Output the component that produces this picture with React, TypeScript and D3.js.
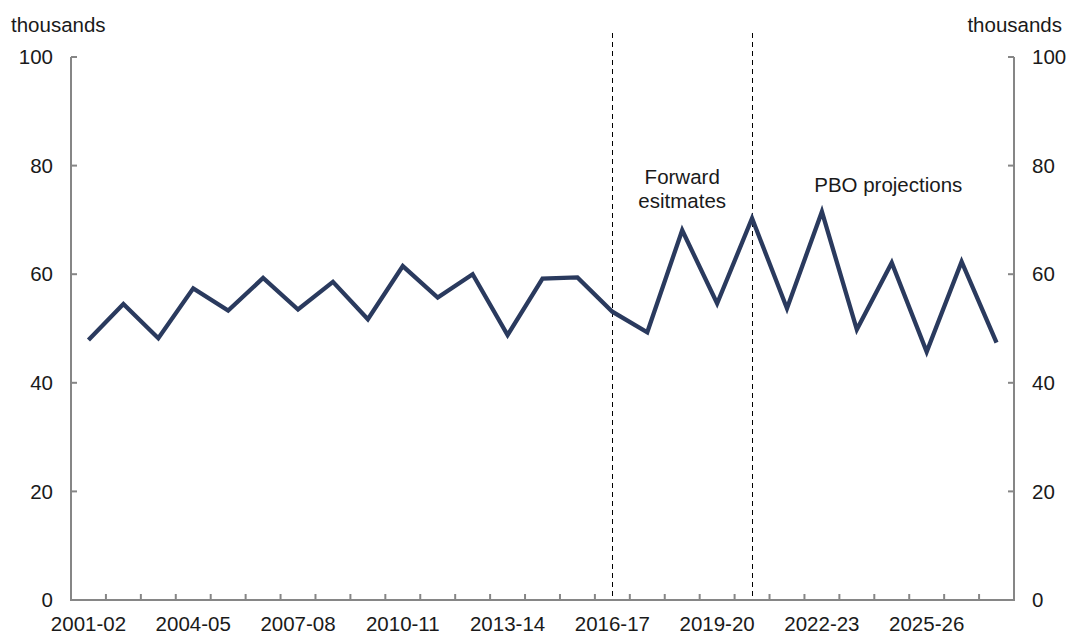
import { useEffect, useRef } from "react";
import * as d3 from "d3";

// financial years shown on the category axis
const YEARS = [
  "2001-02", "2002-03", "2003-04", "2004-05", "2005-06", "2006-07", "2007-08",
  "2008-09", "2009-10", "2010-11", "2011-12", "2012-13", "2013-14", "2014-15",
  "2015-16", "2016-17", "2017-18", "2018-19", "2019-20", "2020-21", "2021-22",
  "2022-23", "2023-24", "2024-25", "2025-26", "2026-27", "2027-28",
];
// thousands
const VALUES = [
  47.9, 54.5, 48.2, 57.4, 53.3, 59.3, 53.5, 58.6, 51.7, 61.5, 55.7, 60.0, 48.8,
  59.2, 59.4, 53.1, 49.3, 68.1, 54.6, 70.3, 53.7, 71.5, 49.8, 62.1, 45.7, 62.3, 47.4,
];
const LABELED = ["2001-02", "2004-05", "2007-08", "2010-11", "2013-14", "2016-17", "2019-20", "2022-23", "2025-26"];
const Y_TICKS = [0, 20, 40, 60, 80, 100];
const DIVIDERS = ["2016-17", "2020-21"];
// annotation anchors: category, offset in bands, value of first baseline
const NOTES = [
  { year: "2018-19", shift: 0, lines: ["Forward", "esitmates"], value: 76.6 },
  { year: "2024-25", shift: -0.1, lines: ["PBO projections"], value: 75.2 },
];

const W = 1069;
const H = 634;
const M = { top: 57, right: 55, bottom: 34, left: 71 };
const FONT = "'Liberation Sans', Arial, sans-serif";
const AXIS = "#868686";
const LINE = "#2a3a5e";

export default function App() {
  const ref = useRef<SVGSVGElement | null>(null);

  useEffect(() => {
    const svg = d3.select(ref.current);
    svg.selectAll("*").remove();

    const x0 = M.left;
    const x1 = W - M.right;
    const yB = H - M.bottom;
    const x = d3.scaleBand<string>().domain(YEARS).range([x0, x1]).padding(0);
    const cx = (d: string) => (x(d) ?? 0) + x.bandwidth() / 2;
    const y = d3.scaleLinear().domain([0, 100]).range([yB, M.top]);

    const g = svg.append("g").attr("font-family", FONT).attr("font-size", 20.5).attr("fill", "#1a1a1a");

    // dashed period dividers
    g.selectAll("line.div")
      .data(DIVIDERS)
      .join("line")
      .attr("class", "div")
      .attr("x1", (d) => Math.round(cx(d)) + 0.5)
      .attr("x2", (d) => Math.round(cx(d)) + 0.5)
      .attr("y1", 33)
      .attr("y2", yB)
      .attr("stroke", "#000")
      .attr("stroke-width", 1)
      .attr("stroke-dasharray", "5,4");

    // axes
    const ax = g.append("g").attr("stroke", AXIS).attr("stroke-width", 2).attr("fill", "none");
    ax.append("path").attr("d", `M${x0},${M.top}V${yB}H${x1}V${M.top}`);
    ax.selectAll("line.yl")
      .data(Y_TICKS)
      .join("line")
      .attr("class", "yl")
      .attr("x1", x0)
      .attr("x2", x0 + 6)
      .attr("y1", (d) => y(d))
      .attr("y2", (d) => y(d));
    ax.selectAll("line.yr")
      .data(Y_TICKS)
      .join("line")
      .attr("class", "yr")
      .attr("x1", x1)
      .attr("x2", x1 - 6)
      .attr("y1", (d) => y(d))
      .attr("y2", (d) => y(d));
    ax.selectAll("line.xt")
      .data(YEARS.slice(1))
      .join("line")
      .attr("class", "xt")
      .attr("x1", (d) => x(d) ?? 0)
      .attr("x2", (d) => x(d) ?? 0)
      .attr("y1", yB)
      .attr("y2", yB - 6);

    // tick labels
    g.selectAll("text.yl")
      .data(Y_TICKS)
      .join("text")
      .attr("class", "yl")
      .attr("x", x0 - 18)
      .attr("y", (d) => y(d))
      .attr("dy", "0.35em")
      .attr("text-anchor", "end")
      .text((d) => d);
    g.selectAll("text.yr")
      .data(Y_TICKS)
      .join("text")
      .attr("class", "yr")
      .attr("x", x1 + 18)
      .attr("y", (d) => y(d))
      .attr("dy", "0.35em")
      .text((d) => d);
    g.selectAll("text.xl")
      .data(LABELED)
      .join("text")
      .attr("class", "xl")
      .attr("x", (d) => cx(d))
      .attr("y", H - 3)
      .attr("text-anchor", "middle")
      .text((d) => d);

    g.append("text").attr("x", 11).attr("y", 32).text("thousands");
    g.append("text").attr("x", W - 7).attr("y", 32).attr("text-anchor", "end").text("thousands");

    // series
    const line = d3
      .line<number>()
      .x((_d, i) => cx(YEARS[i]))
      .y((d) => y(d));
    g.append("path")
      .datum(VALUES)
      .attr("d", line)
      .attr("fill", "none")
      .attr("stroke", LINE)
      .attr("stroke-width", 4.3)
      .attr("stroke-linejoin", "miter");

    // annotations
    NOTES.forEach((n) => {
      const ax0 = cx(n.year) + n.shift * x.bandwidth();
      const t = g.append("text").attr("x", ax0).attr("y", y(n.value)).attr("text-anchor", "middle");
      n.lines.forEach((s, i) =>
        t.append("tspan").attr("x", ax0).attr("dy", i === 0 ? 0 : 24).text(s),
      );
    });
  }, []);

  return (
    <svg
      ref={ref}
      width={W}
      height={H}
      style={{ position: "absolute", left: 0, top: 0, background: "#fff" }}
    />
  );
}
